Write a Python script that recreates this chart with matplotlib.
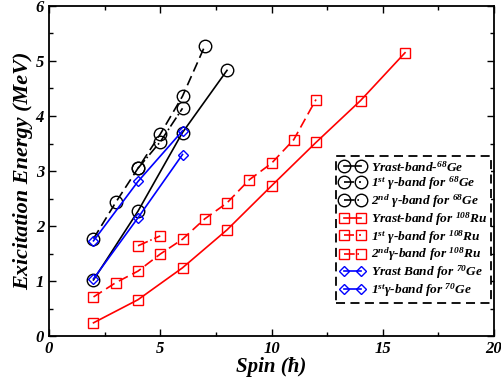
import matplotlib
matplotlib.use("Agg")
import matplotlib.pyplot as plt
from matplotlib.ticker import MultipleLocator

plt.rcParams["font.family"] = ["Liberation Serif", "DejaVu Serif"]
plt.rcParams["font.weight"] = "bold"
plt.rcParams["font.style"] = "italic"
plt.rcParams["mathtext.fontset"] = "custom"
plt.rcParams["mathtext.rm"] = "Liberation Serif:bold:italic"
plt.rcParams["mathtext.it"] = "Liberation Serif:bold:italic"
plt.rcParams["mathtext.bf"] = "Liberation Serif:bold:italic"

# 68Ge
ge68_yrast_spin = [2, 4, 6, 8]
ge68_yrast_e = [1.02, 2.27, 3.70, 4.83]
ge68_g1_spin = [2, 3, 4, 5, 6, 7]
ge68_g1_e = [1.77, 2.43, 3.05, 3.67, 4.36, 5.27]
ge68_g2_spin = [4, 5, 6]
ge68_g2_e = [3.05, 3.53, 4.14]

# 108Ru
ru_yrast_spin = [2, 4, 6, 8, 10, 12, 14, 16]
ru_yrast_e = [0.24, 0.66, 1.24, 1.93, 2.73, 3.52, 4.28, 5.15]
ru_g1_spin = [2, 3, 4, 5, 6, 7, 8, 9, 10, 11, 12]
ru_g1_e = [0.71, 0.97, 1.18, 1.49, 1.76, 2.13, 2.42, 2.84, 3.14, 3.57, 4.30]
ru_g2_spin = [4, 5]
ru_g2_e = [1.64, 1.82]

# 70Ge
ge70_yrast_spin = [2, 4, 6]
ge70_yrast_e = [1.04, 2.15, 3.30]
ge70_g1_spin = [2, 4, 6]
ge70_g1_e = [1.73, 2.81, 3.73]

fig = plt.figure(figsize=(5.02, 3.82), dpi=100)
ax = fig.add_axes([0.0976, 0.1204, 0.8865, 0.8639])

circ = dict(marker="o", ms=9, mfc="none", mew=1.0, color="black", lw=1.2)
sq = dict(marker="s", ms=7, mfc="none", mew=1.0, color="red", lw=1.2)
dia = dict(marker="D", ms=5.5, mfc="none", mew=1.0, color="blue", lw=1.2)

ax.plot(ge68_yrast_spin, ge68_yrast_e, ls="-", label="Yrast-band-$^{68}$Ge", **circ)
ax.plot(ge68_g1_spin, ge68_g1_e, ls=(0, (6, 3)), label="1$^{st}$ γ-band for $^{68}$Ge", **circ)
ax.plot(ge68_g2_spin, ge68_g2_e, ls="-.", label="2$^{nd}$ γ-band for $^{68}$Ge", **circ)
ax.plot(ru_yrast_spin, ru_yrast_e, ls="-", label="Yrast-band for $^{108}$Ru", **sq)
ax.plot(ru_g1_spin, ru_g1_e, ls=(0, (6, 3)), label="1$^{st}$ γ-band for $^{108}$Ru", **sq)
ax.plot(ru_g2_spin, ru_g2_e, ls="-.", label="2$^{nd}$γ-band for $^{108}$Ru", **sq)
ax.plot(ge70_yrast_spin, ge70_yrast_e, ls="-", label="Yrast Band for $^{70}$Ge", **dia)
ax.plot(ge70_g1_spin, ge70_g1_e, ls="-", label="1$^{st}$γ-band for $^{70}$Ge", **dia)

ax.set_xlim(0, 20)
ax.set_ylim(0, 6)
ax.xaxis.set_major_locator(MultipleLocator(5))
ax.xaxis.set_minor_locator(MultipleLocator(2.5))
ax.yaxis.set_major_locator(MultipleLocator(1))
ax.yaxis.set_minor_locator(MultipleLocator(0.5))
ax.tick_params(which="both", direction="in", top=True, right=True,
               labelsize=12, width=1.0)
ax.tick_params(which="major", length=5)
ax.tick_params(which="minor", length=3)
for lab in ax.get_xticklabels() + ax.get_yticklabels():
    lab.set_fontweight("bold")
    lab.set_fontstyle("italic")
for s in ax.spines.values():
    s.set_linewidth(1.3)

ax.set_xlabel("Spin (ħ)", fontsize=15, fontweight="bold", fontstyle="italic", labelpad=0)
ax.set_ylabel("Exicitation Energy (MeV)", fontsize=16, fontweight="bold",
              fontstyle="italic", labelpad=2)

leg = ax.legend(loc="lower right", bbox_to_anchor=(0.993, 0.1), numpoints=2,
                fancybox=False, framealpha=1, edgecolor="black",
                prop={"family": "Liberation Serif", "weight": "bold",
                      "style": "italic", "size": 9.6},
                handlelength=1.9, handletextpad=0.4, labelspacing=0.02,
                borderpad=0.3, borderaxespad=0)
leg.get_frame().set_linestyle((0, (5, 3)))
leg.get_frame().set_linewidth(1.3)

fig.savefig("out.png", dpi=100)
